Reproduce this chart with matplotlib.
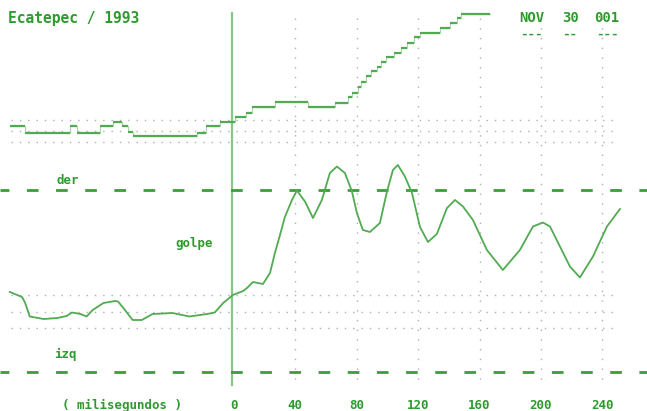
import matplotlib
matplotlib.use('Agg')
import matplotlib.pyplot as plt

# time axis in ms, vertical values are screen rows (0 = top)
step_ms = [-146, -136, -107, -102, -87, -79, -73, -69, -66, -24, -18, -9, 1, 8, 12, 27,
           48, 66, 74, 77, 81, 83, 86, 89, 93, 96, 99, 104, 109, 113, 117, 121, 134,
           141, 145, 148, 167]
step_row = [126, 132.5, 126, 132.5, 126, 122, 126, 132, 136, 132.5, 126, 122, 117, 113, 107,
            102, 107, 102.5, 97, 93, 87, 82, 76, 71, 67, 62, 57, 53, 48, 43, 37, 33, 28,
            23, 18, 14, 14]

golpe_ms = [-146, -138, -136, -133, -124, -115, -109, -105.5, -100, -96, -92, -85, -77.5,
            -75.5, -71, -66, -60, -53, -40, -29, -17.5, -12.5, -7, -0.7, 6, 8.5, 12.4, 18.9,
            23.5, 26.7, 30, 33.2, 37.8, 41, 46.3, 51.5, 57.3, 62.5, 67.1, 72.3, 76.9, 80.1,
            84, 88.6, 95.1, 99.7, 103.6, 106.8, 111.4, 116, 121.2, 126.4, 132.2, 138.8, 144,
            149.2, 155.7, 164.8, 175.2, 186.3, 194.8, 201.3, 205.9, 212.4, 218.9, 225.4,
            233.9, 243, 251.5]
golpe_row = [292, 297, 303, 316.5, 319, 318, 316, 312.5, 314, 316.5, 310, 303, 301, 301.5,
             310, 320, 320, 314, 313, 316.5, 314, 312.5, 303, 295, 291, 288, 282, 284, 273,
             253, 235, 217, 200, 190.5, 201.5, 218, 200, 173, 166.5, 173, 191.5, 213, 230,
             232, 223, 191.5, 170, 165, 176.5, 193, 227, 242, 234, 208, 200, 206.5, 220,
             250, 270, 250, 226.5, 222.5, 226.5, 246.5, 266.5, 277.5, 256.5, 226.5, 209]

tick_ms = [0, 40, 80, 120, 160, 200, 240]
tick_labels = ['0', '40', '80', '120', '160', '200', '240']
grid_rows = [120, 131, 142, 295, 312, 328]
der_row = 190
izq_row = 372

green = '#2f9a2f'
trace = '#52aa52'
font = dict(family='DejaVu Sans Mono', fontweight='bold', color=green)

fig = plt.figure(figsize=(6.47, 4.11), dpi=100)
ax = fig.add_axes([0, 19 / 411, 1, 392 / 411])
ax.set_xlim(-152.4, 269.1)
ax.set_ylim(392, 0)
for s in ax.spines.values():
    s.set_visible(False)
ax.set_yticks([])

# dotted grid
for t in tick_ms[1:]:
    ax.plot([t, t], [18, 385], color='#b0b0b0', lw=1, ls=(0, (1, 6)), clip_on=False)
for r in grid_rows:
    ax.plot([-145, 251], [r, r], color='#b0b0b0', lw=1, ls=(0, (1, 5)))

# zero line
ax.plot([-1, -1], [13, 385], color='#86c886', lw=1.6, clip_on=False)

# der / izq dashed levels
ax.axhline(der_row, color='#3a9e3a', lw=2, ls=(1, (4.2, 6.3)))
ax.axhline(izq_row, color='#3a9e3a', lw=2, ls=(1, (4.2, 6.3)))

# stepped trace: level segments, faint joins
ax.plot(step_ms, step_row, color='#a8d8a8', lw=0.8, drawstyle='steps-post')
ax.hlines(step_row[:-1], step_ms[:-1], step_ms[1:], color=trace, lw=1.6)

# golpe trace
ax.plot(golpe_ms, golpe_row, color=trace, lw=1.3)

ax.set_xticks(tick_ms)
ax.set_xticklabels(tick_labels, fontsize=9, **font)
ax.tick_params(axis='x', length=0, pad=5)

ax.text(-147, 18, 'Ecatepec / 1993', fontsize=10.5, va='center', ha='left', **font)
ax.text(194, 18, 'NOV', fontsize=10, va='center', ha='center', **font)
ax.text(194, 34, '---', fontsize=9, va='center', ha='center', **font)
ax.text(219, 18, '30', fontsize=10, va='center', ha='center', **font)
ax.text(219, 34, '--', fontsize=9, va='center', ha='center', **font)
ax.text(243, 18, '001', fontsize=10, va='center', ha='center', **font)
ax.text(243, 34, '---', fontsize=9, va='center', ha='center', **font)
ax.text(-108, 180, 'der', fontsize=9, va='center', ha='center', **font)
ax.text(-26, 243, 'golpe', fontsize=9, va='center', ha='center', **font)
ax.text(-110, 354, 'izq', fontsize=9, va='center', ha='center', **font)
ax.text(-73, 405, '( milisegundos )', fontsize=9, va='center', ha='center', **font)

fig.savefig('out.png', dpi=100, facecolor='white')
